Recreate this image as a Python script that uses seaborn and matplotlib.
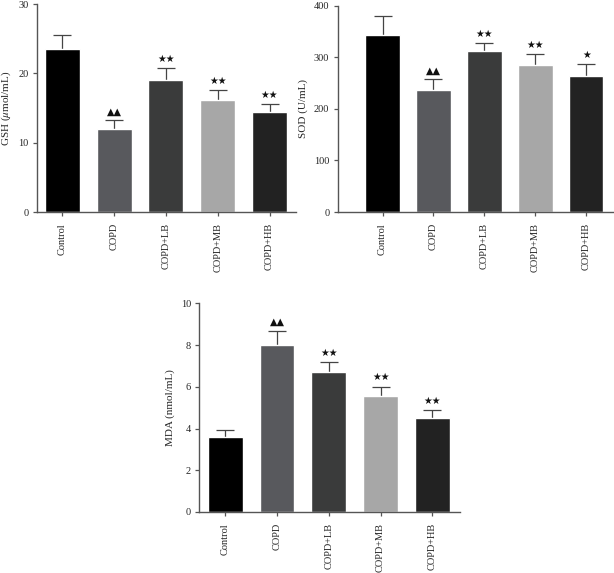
import matplotlib
matplotlib.use("Agg")
import matplotlib.pyplot as plt
import seaborn as sns
import numpy as np

groups = ["Control", "COPD", "COPD+LB", "COPD+MB", "COPD+HB"]
colors = ["#000000", "#58595d", "#3a3b3b", "#a7a7a7", "#222222"]

gsh_mean = [23.5, 12.0, 19.1, 16.1, 14.4]
gsh_err = [2.1, 1.2, 1.7, 1.5, 1.2]
gsh_marks = ["", "▲▲", "★★", "★★", "★★"]

sod_mean = [344, 236, 313, 285, 264]
sod_err = [36, 21, 15, 22, 23]
sod_marks = ["", "▲▲", "★★", "★★", "★"]

mda_mean = [3.61, 7.99, 6.73, 5.58, 4.50]
mda_err = [0.30, 0.70, 0.46, 0.43, 0.39]
mda_marks = ["", "▲▲", "★★", "★★", "★★"]

sns.set_style("ticks")
plt.rcParams["font.family"] = ["Liberation Serif", "DejaVu Serif"]
plt.rcParams["mathtext.fontset"] = "stix"

fig = plt.figure(figsize=(6.14, 5.73), dpi=100)

spine_col = "#555555"


def panel(rect, mean, err, marks, ylim, yticks, ylabel, xlim):
    ax = fig.add_axes(rect)
    sns.barplot(x=groups, y=mean, hue=groups, palette=colors, legend=False,
                width=0.675, ax=ax, saturation=1, errorbar=None, zorder=2)
    x = np.arange(len(groups))
    # symmetric bars drawn behind the columns, so only the upper half shows
    ax.errorbar(x, mean, yerr=err, fmt="none", ecolor="#444444",
                elinewidth=0.9, capsize=6.5, capthick=0.9, zorder=1)
    span = ylim[1] - ylim[0]
    for i, m in enumerate(marks):
        if m:
            ax.text(x[i], mean[i] + err[i] + span * 0.02, m, ha="center",
                    va="bottom", fontsize=7, family=["DejaVu Sans"],
                    color="#111111")
    ax.set_xlim(*xlim)
    ax.set_ylim(*ylim)
    ax.set_yticks(yticks)
    ax.set_ylabel(ylabel, fontsize=8, labelpad=4)
    ax.tick_params(axis="x", rotation=90, labelsize=7.5, length=3,
                   color=spine_col, width=0.9, pad=5)
    ax.tick_params(axis="y", labelsize=7.5, length=3, color=spine_col,
                   width=0.9, pad=3)
    for s in ["top", "right"]:
        ax.spines[s].set_visible(False)
    for s in ["left", "bottom"]:
        ax.spines[s].set_color(spine_col)
        ax.spines[s].set_linewidth(1.0)
        ax.spines[s].set_zorder(3)
    return ax


panel([0.0603, 0.630, 0.4217, 0.363], gsh_mean, gsh_err, gsh_marks,
      (0, 30), [0, 10, 20, 30], r"GSH ($\mu$mol/mL)", (-0.49, 4.51))
panel([0.550, 0.630, 0.448, 0.360], sod_mean, sod_err, sod_marks,
      (0, 400), [0, 100, 200, 300, 400], "SOD (U/mL)", (-0.88, 4.52))
panel([0.3246, 0.1065, 0.4244, 0.3642], mda_mean, mda_err, mda_marks,
      (0, 10), [0, 2, 4, 6, 8, 10], "MDA (nmol/mL)", (-0.5, 4.53))

fig.savefig("out.png", dpi=100)
